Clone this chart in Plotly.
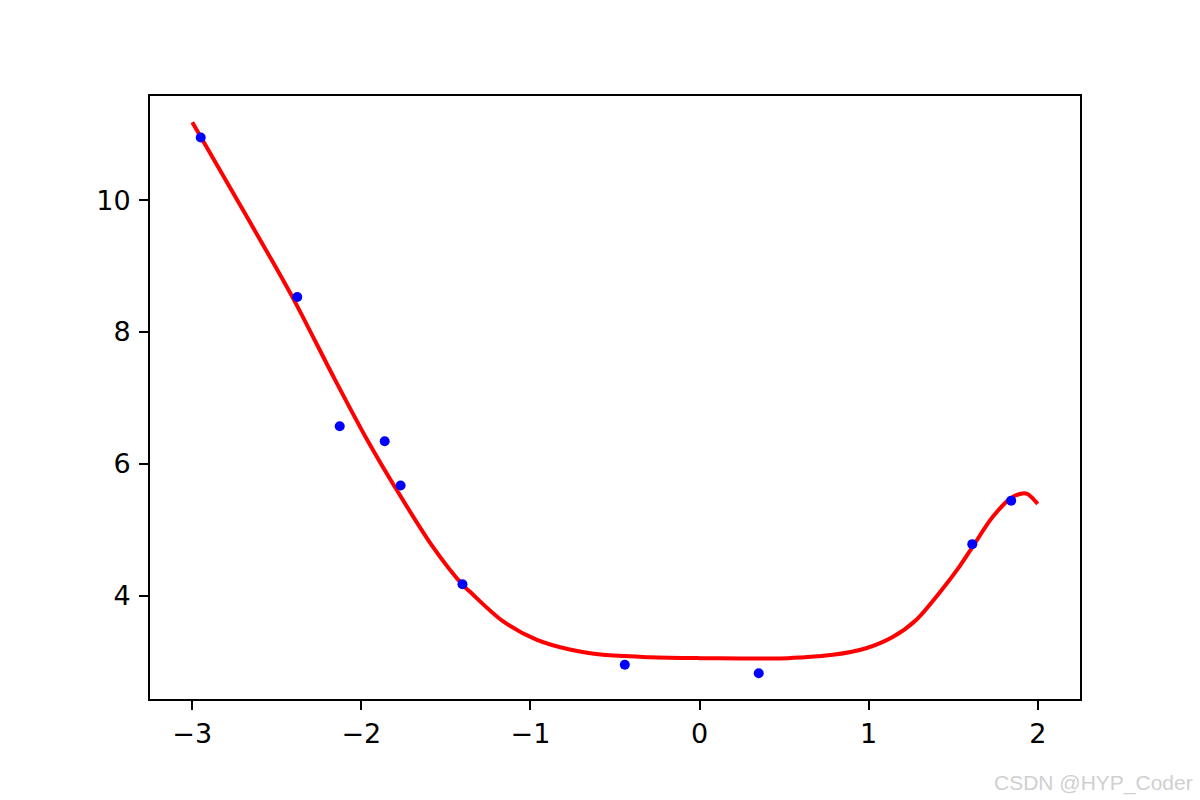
import plotly.graph_objects as go

# Scatter data (blue points)
pts_x = [-2.95, -2.379, -2.128, -1.862, -1.768, -1.402, -0.442, 0.35, 1.613, 1.843]
pts_y = [10.95, 8.53, 6.57, 6.34, 5.67, 4.17, 2.95, 2.82, 4.78, 5.44]

# Fitted curve (red line)
curve_x = [-3.0, -2.7, -2.41, -2.165, -1.965, -1.8, -1.575, -1.404, -1.359, -1.163,
           -0.965, -0.768, -0.571, -0.296, 0.0, 0.25, 0.472, 0.591, 0.788, 0.985,
           1.142, 1.281, 1.418, 1.537, 1.615, 1.733, 1.842, 1.911, 1.94, 2.0]
curve_y = [11.18, 9.85, 8.54, 7.32, 6.36, 5.64, 4.73, 4.17, 4.06, 3.61,
           3.33, 3.18, 3.10, 3.065, 3.05, 3.045, 3.045, 3.06, 3.10, 3.20,
           3.37, 3.63, 4.04, 4.44, 4.74, 5.19, 5.48, 5.55, 5.54, 5.39]

x_ticks = [-3, -2, -1, 0, 1, 2]
y_ticks = [4, 6, 8, 10]

fig = go.Figure()
fig.add_trace(go.Scatter(x=curve_x, y=curve_y, mode="lines",
                         line=dict(color="#ff0000", width=4, shape="spline", smoothing=0.9),
                         showlegend=False, hoverinfo="skip"))
fig.add_trace(go.Scatter(x=pts_x, y=pts_y, mode="markers",
                         marker=dict(color="#0000ff", size=10),
                         showlegend=False))

axis_common = dict(showgrid=False, zeroline=False, showline=True, linecolor="black",
                   linewidth=2, mirror=True, ticks="outside", ticklen=9, tickwidth=2,
                   tickcolor="black", tickfont=dict(family="DejaVu Sans", size=27, color="black"))

fig.update_xaxes(range=[-3.25, 2.25], tickvals=x_ticks, ticklabelstandoff=1, **axis_common)
fig.update_yaxes(range=[2.43, 11.58], tickvals=y_ticks, ticklabelstandoff=3, **axis_common)

fig.update_layout(width=1200, height=800, paper_bgcolor="white", plot_bgcolor="white",
                  margin=dict(l=150, r=120, t=96, b=101),
                  annotations=[dict(text="CSDN @HYP_Coder", xref="paper", yref="paper",
                                    x=1.1237, y=-0.139, xanchor="right", yanchor="middle",
                                    showarrow=False,
                                    font=dict(family="Liberation Sans", size=21, color="#d0d0d0"))])

fig.write_html("out.html", config={"displayModeBar": False},
               post_script="document.body.style.margin='0';document.body.style.overflow='hidden';")
